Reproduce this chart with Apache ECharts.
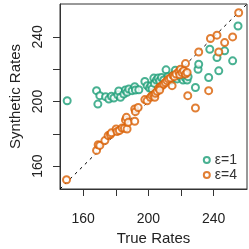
<!DOCTYPE html>
<html><head><meta charset="utf-8">
<script src="https://cdn.jsdelivr.net/npm/echarts@6/dist/echarts.min.js"></script>
<style>html,body{margin:0;padding:0;background:#fff}#c{width:249px;height:249px}</style>
</head><body><div id="c"></div>
<script>
var seriesNames = ['ε=1', 'ε=4'];
var tickValues = [160, 180, 200, 220, 240];
var labelValues = [160, 200, 240];
var greenX = [150.2,169,168.2,170.2,173.7,175.7,177.3,178.8,181.2,181.8,182.9,184.9,185.9,186.9,188,190,191.6,192,194.1,197.8,199.2,200.6,201.6,202.2,203.3,203.7,204.9,205.9,206.9,208,209.4,210.8,212,213.5,215.5,216.5,217.6,219.2,220.6,221.2,222.7,223.7,224.3,228.8,230.4,230.8,236.9,237.6,243.1,242,246.7,251.6,254.9];
var greenY = [200.5,198.4,206.7,203.6,203,201.5,203.2,202.2,204.2,206.5,202.6,204.6,207.1,205.7,207.7,206.7,209.2,207.1,207.3,212.4,209.8,208.3,209.8,207.7,214.5,211.2,213.3,214.5,212.9,214.9,213.3,219.6,215.4,212.9,216.6,219.4,214,215.4,216,213.3,214.5,213.3,215.4,208.7,220,223.1,214.9,232.4,219,227.2,231.4,225.2,246.8];
var orangeX = [149.8,168.2,169.2,170.2,173.3,175.3,176.7,177.3,180.2,180.8,182.2,183.9,185.3,185.9,186.5,186.9,187.6,191.6,192,191.6,193.7,197.8,199.2,201.2,202.2,203.3,203.9,204.3,205.3,206.3,207.3,208.4,206.9,209.4,210.4,211.4,212.4,213.5,214.5,215.1,215.9,216.9,218.6,219.2,219.6,220.6,221.6,222.7,222.7,223.7,224.1,228.8,230.8,236.9,238,242,243.1,246.7,251.6,255.3];
var orangeY = [151.5,169.7,173.2,172.8,175.8,178.9,179.5,180.6,183,181.4,182,183.6,183.4,188.6,190.2,183,187.1,195.4,193.7,187.8,196.3,201.2,200.5,202.6,203.6,204.2,202.6,205.1,206.3,208.3,209.2,209.8,207.1,210.8,211.8,212.9,213.9,214.5,209.8,216,215.4,217,218.6,216.6,220,218,219,223.5,217,218,203.6,196,230.7,206.7,239,241.1,230.7,236.5,240,255];
var axisMin = 145.8, axisMax = 260.4;

function pairs(xs, ys){ return xs.map(function(x,i){ return [x, ys[i]]; }); }
var font = 'Liberation Sans, Arial, Helvetica, sans-serif';
var chart = echarts.init(document.getElementById('c'), null, {renderer:'canvas'});
function axis(name, isY){
  return {
    type:'value', min:axisMin, max:axisMax, name:name, nameLocation:'middle',
    nameGap: isY ? 34 : 41, nameRotate: isY ? 90 : 0,
    nameTextStyle:{fontFamily:font, fontSize:15, color:'#222'},
    axisLine:{show:true, lineStyle:{color:'#333', width:1}},
    axisTick:{show:true, length:7, inside:false, customValues:tickValues, lineStyle:{color:'#333', width:1}},
    axisLabel:{customValues:labelValues, fontFamily:font, fontSize:14, color:'#222', margin: isY ? 15 : 23, rotate: isY ? 90 : 0},
    splitLine:{show:false}
  };
}
chart.setOption({
  animation:false,
  backgroundColor:'#fff',
  grid:{left:60, right:2, top:4, bottom:60, show:true, borderColor:'#333', borderWidth:1,
        containLabel:false, outerBoundsMode:'none'},
  xAxis: axis('True Rates', false),
  yAxis: axis('Synthetic Rates', true),
  legend:{
    data:seriesNames, orient:'vertical', right:12, bottom:67, itemGap:1, padding:0,
    itemWidth:6, itemHeight:6,
    textStyle:{fontFamily:font, fontSize:14, color:'#333', padding:[0,0,0,0]}
  },
  series:[
    {type:'line', data:[[axisMin,axisMin],[axisMax,axisMax]], symbol:'none', silent:true,
     lineStyle:{color:'#000', width:1, type:[3,4]}, z:1},
    {name:seriesNames[0], type:'scatter', data:pairs(greenX, greenY), symbol:'emptyCircle', symbolSize:7,
     itemStyle:{color:'#1B9E77', borderColor:'#1B9E77', borderWidth:1.2}, z:2},
    {name:seriesNames[1], type:'scatter', data:pairs(orangeX, orangeY), symbol:'emptyCircle', symbolSize:7,
     itemStyle:{color:'#D95F02', borderColor:'#D95F02', borderWidth:1.2}, z:3}
  ]
});
</script></body></html>
